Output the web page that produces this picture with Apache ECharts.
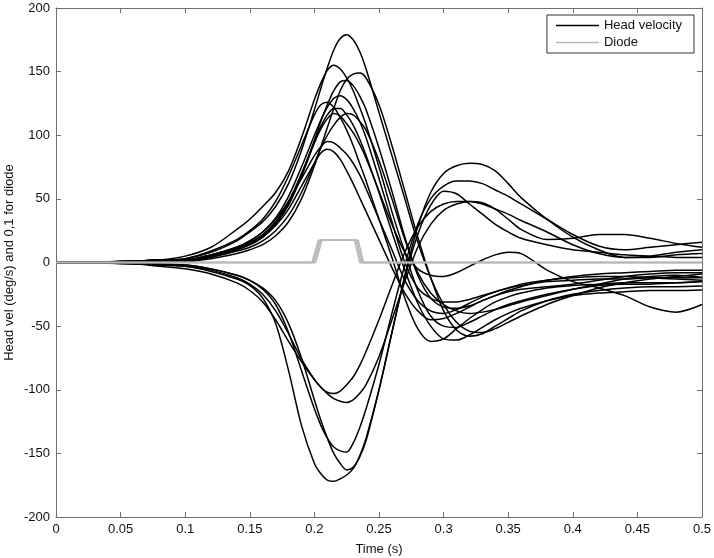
<!DOCTYPE html>
<html>
<head>
<meta charset="utf-8">
<script src="https://cdn.jsdelivr.net/npm/echarts@6/dist/echarts.min.js"></script>
<style>
  html, body { margin: 0; padding: 0; background: #fff; }
  #chart { width: 714px; height: 558px; }
</style>
</head>
<body>
<div id="chart"></div>
<script>
// sample times (s) shared by all head velocity traces
var times = [0, 0.03, 0.06, 0.08, 0.10, 0.12, 0.14, 0.15, 0.16, 0.17, 0.18, 0.19,
  0.20, 0.205, 0.21, 0.215, 0.22, 0.225, 0.23, 0.235, 0.24,
  0.25, 0.26, 0.27, 0.28, 0.29, 0.30, 0.31, 0.32, 0.33, 0.34, 0.35, 0.36, 0.38, 0.40, 0.42, 0.44, 0.46, 0.48, 0.50];

// head velocity traces (deg/s), positive first
var vel01 = [0, 0.3, 1, 2, 3, 8, 17, 24, 32, 44, 62, 88, 120, 137, 153, 167, 176, 179, 175, 166, 152, 118, 84, 50, 16, -12, -33, -47, -54, -55, -52, -47, -42, -33, -26, -20, -16, -13, -11, -9];
var vel02 = [0, 0.5, 1, 2, 5, 12, 26, 34, 44, 55, 72, 98, 128, 141, 151, 155, 152, 145, 135, 122, 108, 75, 40, 8, -22, -42, -50, -51, -47, -42, -37, -33, -30, -25, -21, -18, -17, -17, -16, -15];
var vel03 = [0, 0.2, 0.5, 1, 1, 3, 7, 10, 14, 21, 32, 50, 76, 91, 106, 121, 135, 144, 148, 149, 145, 124, 92, 56, 20, -12, -38, -53, -58, -56, -50, -44, -38, -30, -25, -22, -20, -19, -19, -18.5];
var vel04 = [0, 0.3, 1, 2, 2, 5, 10, 14, 20, 30, 45, 68, 96, 111, 124, 135, 142, 143, 139, 131, 120, 90, 56, 20, -10, -28, -35, -36, -34, -30, -26, -22, -19, -14, -11, -9, -8, -7, -6, -6];
var vel05 = [0, 0.4, 1, 2, 2, 6, 12, 17, 24, 35, 52, 75, 100, 112, 122, 129, 131, 128, 121, 111, 98, 66, 32, 0, -20, -28, -31, -31, -29, -26, -23, -20, -18, -15, -14, -13, -13, -12, -12, -12];
var vel06 = [0, 0.5, 1, 2, 3, 9, 18, 25, 34, 48, 68, 92, 116, 124, 126, 122, 114, 104, 92, 78, 64, 34, 4, -28, -52, -62, -60, -52, -44, -37, -31, -27, -24, -20, -18, -17, -16, -16, -16, -15];
var vel07 = [0, 0.3, 1, 2, 2, 6, 12, 16, 22, 32, 48, 70, 95, 107, 116, 121, 121, 116, 108, 97, 84, 55, 24, -6, -32, -50, -60, -61, -57, -51, -45, -40, -36, -30, -26, -24, -23, -22, -22, -21.6];
var vel08 = [0, 0.2, 0.5, 1, 1, 4, 9, 12, 17, 25, 37, 55, 78, 90, 100, 108, 114, 117, 116, 111, 104, 80, 50, 18, -8, -24, -33, -38, -40, -39, -37, -34, -31, -26, -21, -17, -13, -11, -10, -11.6];
var vel09 = [0, 0.4, 1, 2, 2, 5, 11, 15, 21, 31, 46, 68, 94, 105, 113, 117, 115, 109, 102, 93, 82, 56, 30, 8, -5, -10, -11, -8, -3, 2, 6, 8, 7, -6, -15, -20, -26, -35, -39, -33];
var vel10 = [0, 0.3, 1, 2, 2, 6, 12, 17, 24, 34, 48, 66, 84, 91, 95, 94, 90, 85, 78, 69, 58, 34, 10, -14, -30, -38, -40, -37, -32, -27, -23, -20, -17, -14, -12, -11, -11, -12, -13, -14];
var vel11 = [0, 0.2, 0.5, 1, 2, 5, 10, 14, 20, 29, 42, 60, 78, 86, 89, 87, 81, 72, 62, 51, 40, 18, -4, -24, -38, -45, -44, -40, -35, -30, -26, -23, -21, -19, -17, -14, -11, -9, -8, -8];
// negative first
var vel12 = [0, -0.3, -1, -2, -3, -6, -12, -17, -25, -38, -56, -76, -92, -98, -102, -103, -101, -96, -90, -81, -70, -45, -18, 8, 28, 40, 46, 48, 48, 46, 42, 38, 33, 24, 14, 7, 4, 4, 6, 7];
var vel13 = [0, -0.5, -1, -3, -5, -9, -16, -22, -31, -45, -62, -78, -92, -98, -103, -107, -109, -110, -108, -103, -96, -74, -45, -15, 12, 30, 41, 46, 48, 47, 42, 34, 26, 18, 19, 22, 22, 19, 15, 12];
var vel14 = [0, -0.3, -1, -1.5, -2, -5, -10, -14, -21, -33, -55, -85, -115, -128, -138, -145, -148, -149, -142, -130, -115, -80, -40, -2, 30, 50, 60, 64, 64, 62, 57, 52, 46, 34, 22, 13, 10, 12, 14, 16];
var vel15 = [0, -0.2, -0.5, -1, -2, -5, -10, -14, -20, -30, -48, -75, -108, -124, -138, -150, -158, -163, -161, -153, -140, -100, -55, -10, 28, 55, 70, 76, 78, 77, 72, 62, 51, 34, 20, 10, 4, 5, 8, 10];
var vel16 = [0, -0.4, -1, -2, -3, -7, -13, -18, -28, -48, -85, -128, -158, -166, -171, -172, -170, -167, -162, -152, -138, -100, -55, -12, 22, 45, 56, 54, 46, 38, 30, 24, 19, 14, 10, 8, 6, 5, 4, 4];

var velTraces = [vel01, vel02, vel03, vel04, vel05, vel06, vel07, vel08, vel09, vel10, vel11,
  vel12, vel13, vel14, vel15, vel16];

// diode traces: [time, value] corners
var diode1 = [[0, 0], [0.199, 0], [0.204, 17.5], [0.232, 17.5], [0.236, 0], [0.5, 0]];
var diode2 = [[0, 0], [0.200, 0], [0.205, 17.5], [0.233, 17.5], [0.237, 0], [0.5, 0]];
var diode3 = [[0, 0], [0.201, 0], [0.206, 17.5], [0.231, 17.5], [0.235, 0], [0.5, 0]];
var diode4 = [[0, 0], [0.198, 0], [0.203, 17.5], [0.234, 17.5], [0.238, 0], [0.5, 0]];
var diodeTraces = [diode1, diode2, diode3, diode4];

var xTicks = 0.05;
var yTicks = 50;

var series = [];
for (var i = 0; i < velTraces.length; i++) {
  var pts = [];
  for (var j = 0; j < times.length; j++) {
    pts.push([times[j], velTraces[i][j]]);
  }
  series.push({
    name: 'Head velocity',
    type: 'line',
    data: pts,
    smooth: 0.3,
    symbol: 'none',
    lineStyle: { color: '#000', width: 1.5 },
    itemStyle: { color: '#000' },
    animation: false
  });
}
for (var k = 0; k < diodeTraces.length; k++) {
  series.push({
    name: 'Diode',
    type: 'line',
    data: diodeTraces[k],
    symbol: 'none',
    lineStyle: { color: '#b8b8b8', width: 1.3 },
    itemStyle: { color: '#b8b8b8' },
    animation: false
  });
}

var axisColor = '#707070';
var font = 'Liberation Sans, Arial, sans-serif';

var myChart = echarts.init(document.getElementById('chart'));
myChart.setOption({
  backgroundColor: '#fff',
  animation: false,
  grid: { left: 56, right: 12, top: 8, bottom: 41, containLabel: false, outerBoundsMode: 'none' },
  legend: {
    data: ['Head velocity', 'Diode'],
    orient: 'vertical',
    right: 20,
    top: 15,
    icon: 'rect',
    itemWidth: 43,
    itemHeight: 1.4,
    itemGap: 4,
    padding: [4, 12, 4, 9],
    borderColor: '#333',
    borderWidth: 1,
    borderRadius: 0,
    backgroundColor: '#fff',
    textStyle: { fontFamily: font, fontSize: 13, color: '#111' }
  },
  xAxis: [{
    type: 'value',
    min: 0,
    max: 0.5,
    interval: xTicks,
    name: 'Time (s)',
    nameLocation: 'middle',
    nameGap: 26,
    nameMoveOverlap: false,
    nameTextStyle: { fontFamily: font, fontSize: 13, color: '#111' },
    axisLine: { onZero: false, lineStyle: { color: axisColor } },
    axisTick: { inside: true, length: 5, lineStyle: { color: axisColor } },
    axisLabel: { fontFamily: font, fontSize: 13, color: '#111', margin: 6 },
    splitLine: { show: false }
  }, {
    type: 'value',
    position: 'top',
    min: 0,
    max: 0.5,
    interval: xTicks,
    axisLine: { onZero: false, lineStyle: { color: axisColor } },
    axisTick: { inside: true, length: 5, lineStyle: { color: axisColor } },
    axisLabel: { show: false },
    splitLine: { show: false }
  }],
  yAxis: [{
    type: 'value',
    min: -200,
    max: 200,
    interval: yTicks,
    name: 'Head vel (deg/s) and 0,1 for diode',
    nameLocation: 'middle',
    nameGap: 40,
    nameMoveOverlap: false,
    nameTextStyle: { fontFamily: font, fontSize: 13, color: '#111' },
    axisLine: { show: true, onZero: false, lineStyle: { color: axisColor } },
    axisTick: { show: true, inside: true, length: 5, lineStyle: { color: axisColor } },
    axisLabel: { fontFamily: font, fontSize: 13, color: '#111', margin: 6 },
    splitLine: { show: false }
  }, {
    type: 'value',
    position: 'right',
    min: -200,
    max: 200,
    interval: yTicks,
    axisLine: { show: true, onZero: false, lineStyle: { color: axisColor } },
    axisTick: { show: true, inside: true, length: 5, lineStyle: { color: axisColor } },
    axisLabel: { show: false },
    splitLine: { show: false }
  }],
  series: series
});
</script>
</body>
</html>
